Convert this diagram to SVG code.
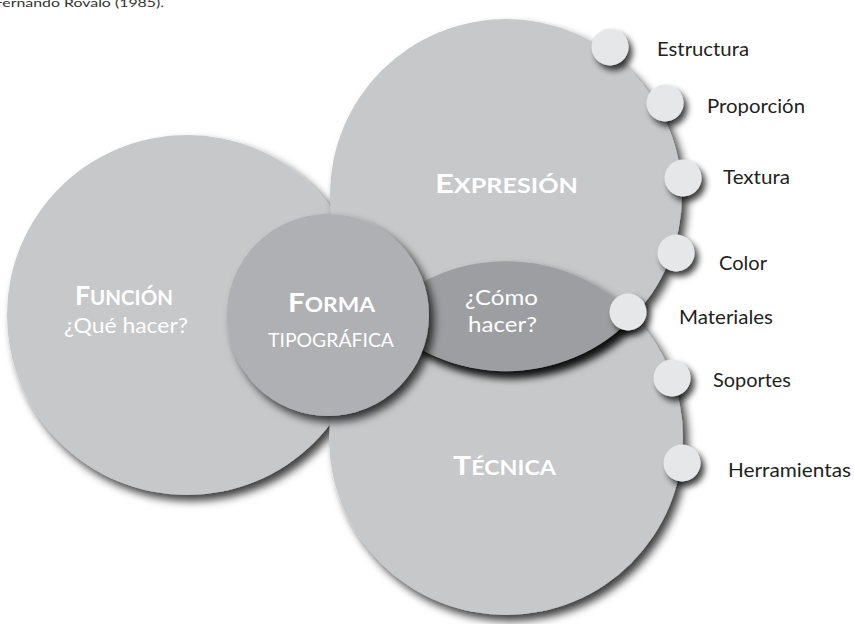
<svg xmlns="http://www.w3.org/2000/svg" width="854" height="624" viewBox="0 0 854 624">
<defs>
<filter id="sh" x="-20%" y="-20%" width="150%" height="150%">
<feDropShadow dx="5" dy="6" stdDeviation="4" flood-color="#000" flood-opacity="0.75"/>
</filter>
<filter id="shs" x="-50%" y="-50%" width="220%" height="220%">
<feDropShadow dx="4" dy="5" stdDeviation="3" flood-color="#000" flood-opacity="0.75"/>
</filter>
</defs>
<style>
.big{fill:#c7c8ca;filter:url(#sh)}
.forma{fill:#aeb0b3;filter:url(#sh)}
.lens{fill:#9d9ea1;filter:url(#sh)}
.dot{fill:#e6e7e8;filter:url(#shs)}
.t{font-family:Lato,"Liberation Sans",sans-serif;fill:#fff;font-weight:bold}
.s{font-family:Lato,"Liberation Sans",sans-serif;fill:#fff}
.lab{font-family:Lato,"Liberation Sans",sans-serif;fill:#231f20;font-size:19px}
.cap{font-family:Lato,"Liberation Sans",sans-serif;fill:#333;font-size:12px}
</style>
<rect width="854" height="624" fill="#fff"/>
<text class="cap" x="-6" y="6.5" textLength="170" lengthAdjust="spacingAndGlyphs">Fernando Rovalo (1985).</text>

<g id="funcion">
<circle class="big" cx="187" cy="315" r="180"/>
<text class="t" x="75" y="305" textLength="98" lengthAdjust="spacingAndGlyphs"><tspan font-size="26">F</tspan><tspan font-size="20">UNCIÓN</tspan></text>
<text class="s" x="64" y="333" font-size="22" textLength="124" lengthAdjust="spacingAndGlyphs">¿Qué hacer?</text>
</g>

<g id="tecnica">
<circle class="big" cx="506" cy="438" r="177"/>
<text class="t" x="453" y="475" textLength="103" lengthAdjust="spacingAndGlyphs"><tspan font-size="26">T</tspan><tspan font-size="20">ÉCNICA</tspan></text>
</g>

<g id="expresion">
<circle class="big" cx="506" cy="195" r="176"/>
<text class="t" x="435" y="193" textLength="143" lengthAdjust="spacingAndGlyphs"><tspan font-size="26">E</tspan><tspan font-size="20">XPRESIÓN</tspan></text>
</g>

<g id="como">
<path class="lens" d="M378 316 A177 177 0 0 1 634 316 A176 176 0 0 1 378 316 Z"/>
<text class="s" x="465" y="305" font-size="22" textLength="73" lengthAdjust="spacingAndGlyphs">¿Cómo</text>
<text class="s" x="468" y="332" font-size="22" textLength="69" lengthAdjust="spacingAndGlyphs">hacer?</text>
</g>

<g id="forma">
<circle class="forma" cx="328" cy="315" r="101"/>
<text class="t" x="288" y="312" textLength="87" lengthAdjust="spacingAndGlyphs"><tspan font-size="26">F</tspan><tspan font-size="20">ORMA</tspan></text>
<text class="s" x="268" y="347" font-size="20" textLength="126" lengthAdjust="spacingAndGlyphs">TIPOGRÁFICA</text>
</g>

<g id="estructura">
<circle class="dot" cx="610" cy="47" r="18.5"/>
<text class="lab" x="657" y="56" textLength="92" lengthAdjust="spacingAndGlyphs">Estructura</text>
</g>
<g id="proporcion">
<circle class="dot" cx="665" cy="103" r="18.5"/>
<text class="lab" x="707" y="113" textLength="98" lengthAdjust="spacingAndGlyphs">Proporción</text>
</g>
<g id="textura">
<circle class="dot" cx="683" cy="178" r="18.5"/>
<text class="lab" x="723" y="184" textLength="67" lengthAdjust="spacingAndGlyphs">Textura</text>
</g>
<g id="color">
<circle class="dot" cx="676" cy="253" r="18.5"/>
<text class="lab" x="719" y="270" textLength="48" lengthAdjust="spacingAndGlyphs">Color</text>
</g>
<g id="materiales">
<circle class="dot" cx="628" cy="312" r="18.5"/>
<text class="lab" x="679" y="324" textLength="94" lengthAdjust="spacingAndGlyphs">Materiales</text>
</g>
<g id="soportes">
<circle class="dot" cx="672" cy="378" r="18.5"/>
<text class="lab" x="713" y="387" textLength="78" lengthAdjust="spacingAndGlyphs">Soportes</text>
</g>
<g id="herramientas">
<circle class="dot" cx="682" cy="463" r="18.5"/>
<text class="lab" x="728" y="477" textLength="123" lengthAdjust="spacingAndGlyphs">Herramientas</text>
</g>
</svg>
